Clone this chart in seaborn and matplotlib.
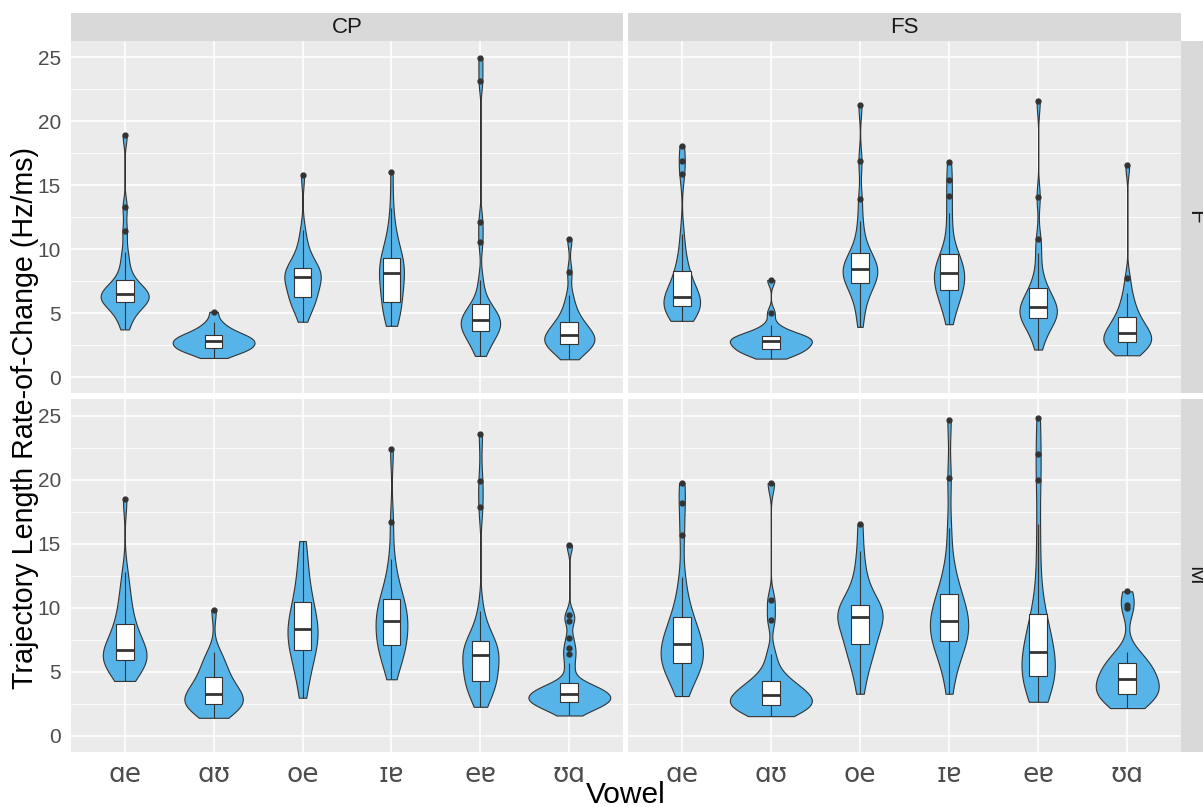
import numpy as np
import pandas as pd
import seaborn as sns
import matplotlib.pyplot as plt

# Vowel categories on the x axis and the facet labels
vowels = ["ɑe", "ɑʊ", "oe", "ɪɐ", "eɐ", "ʊɑ"]
speakers = ["CP", "FS"]
sexes = ["F", "M"]

# Rate-of-change values (Hz/ms), one list per vowel
cp_f = {
    "ɑe": [3.74, 4.4, 4.9, 5.2, 5.5, 5.7, 5.85, 6.0, 6.1, 6.2, 6.3, 6.4, 6.48, 6.6, 6.75, 6.9, 7.1, 7.35, 7.6, 8.2, 8.9, 9.8, 11.39, 13.27, 18.9],
    "ɑʊ": [1.51, 1.75, 1.95, 2.05, 2.12, 2.2, 2.25, 2.35, 2.45, 2.55, 2.62, 2.7, 2.82, 2.9, 2.97, 3.03, 3.1, 3.18, 3.27, 3.4, 3.55, 3.75, 4.0, 4.33, 5.12],
    "oe": [4.34, 5.0, 5.5, 5.8, 6.0, 6.15, 6.3, 6.6, 6.9, 7.2, 7.45, 7.65, 7.86, 7.95, 8.05, 8.15, 8.3, 8.45, 8.57, 8.9, 9.3, 9.8, 10.4, 11.5, 15.83],
    "ɪɐ": [4.02, 4.5, 4.9, 5.2, 5.5, 5.7, 5.9, 6.4, 6.9, 7.3, 7.6, 7.9, 8.12, 8.3, 8.5, 8.7, 8.9, 9.1, 9.35, 9.7, 10.2, 10.8, 11.6, 13.2, 16.04],
    "eɐ": [1.67, 2.2, 2.6, 2.9, 3.2, 3.4, 3.6, 3.8, 3.95, 4.1, 4.22, 4.35, 4.47, 4.6, 4.8, 5.0, 5.2, 5.45, 5.7, 6.4, 7.6, 10.58, 12.15, 23.17, 24.92],
    "ʊɑ": [1.41, 1.75, 2.0, 2.2, 2.35, 2.5, 2.64, 2.75, 2.85, 2.95, 3.05, 3.17, 3.29, 3.45, 3.6, 3.8, 4.0, 4.17, 4.34, 4.7, 5.1, 5.6, 6.4, 8.2, 10.8],
}
fs_f = {
    "ɑe": [4.41, 4.6, 4.8, 5.0, 5.2, 5.4, 5.56, 5.7, 5.82, 5.95, 6.05, 6.17, 6.3, 6.5, 6.8, 7.1, 7.5, 7.9, 8.3, 8.9, 9.7, 11.2, 15.9, 16.87, 18.1],
    "ɑʊ": [1.46, 1.65, 1.8, 1.95, 2.05, 2.12, 2.19, 2.3, 2.42, 2.52, 2.6, 2.7, 2.82, 2.9, 2.97, 3.03, 3.09, 3.15, 3.21, 3.35, 3.5, 3.7, 4.1, 5.04, 7.6],
    "oe": [3.94, 5.0, 5.8, 6.4, 6.8, 7.1, 7.34, 7.6, 7.8, 8.0, 8.15, 8.3, 8.44, 8.6, 8.8, 9.0, 9.25, 9.5, 9.74, 10.3, 11.1, 12.2, 13.9, 16.87, 21.3],
    "ɪɐ": [4.15, 5.0, 5.6, 6.0, 6.35, 6.6, 6.82, 7.1, 7.35, 7.6, 7.8, 7.95, 8.12, 8.35, 8.6, 8.85, 9.1, 9.35, 9.61, 10.3, 11.5, 12.8, 14.13, 15.4, 16.8],
    "eɐ": [2.17, 3.0, 3.5, 3.9, 4.2, 4.42, 4.6, 4.78, 4.92, 5.05, 5.18, 5.32, 5.46, 5.65, 5.85, 6.1, 6.35, 6.65, 6.95, 7.5, 8.3, 9.7, 10.8, 14.08, 21.58],
    "ʊɑ": [1.72, 2.0, 2.2, 2.35, 2.5, 2.62, 2.72, 2.85, 2.95, 3.05, 3.17, 3.3, 3.47, 3.65, 3.85, 4.05, 4.25, 4.45, 4.68, 5.1, 5.5, 6.0, 6.6, 7.73, 16.56],
}
cp_m = {
    "ɑe": [4.27, 4.6, 4.95, 5.25, 5.5, 5.72, 5.9, 6.05, 6.2, 6.32, 6.45, 6.57, 6.7, 7.0, 7.35, 7.7, 8.05, 8.4, 8.72, 9.3, 10.0, 10.7, 11.5, 12.8, 18.47],
    "ɑʊ": [1.39, 1.75, 2.0, 2.15, 2.25, 2.35, 2.43, 2.55, 2.7, 2.85, 3.0, 3.13, 3.27, 3.45, 3.65, 3.85, 4.1, 4.35, 4.61, 4.95, 5.3, 5.7, 6.1, 6.55, 9.83],
    "oe": [2.96, 4.0, 4.8, 5.4, 5.9, 6.3, 6.7, 7.05, 7.35, 7.65, 7.9, 8.1, 8.33, 8.6, 8.9, 9.25, 9.6, 10.0, 10.43, 11.0, 11.6, 12.3, 13.2, 14.2, 15.2],
    "ɪɐ": [4.4, 5.3, 5.9, 6.3, 6.6, 6.85, 7.1, 7.45, 7.8, 8.1, 8.4, 8.7, 8.99, 9.25, 9.5, 9.8, 10.05, 10.35, 10.64, 11.1, 11.7, 12.6, 13.8, 16.7, 22.35],
    "eɐ": [2.25, 3.0, 3.45, 3.75, 3.95, 4.12, 4.27, 4.6, 4.95, 5.3, 5.65, 6.0, 6.29, 6.45, 6.6, 6.75, 6.92, 7.12, 7.36, 7.8, 8.4, 9.77, 17.85, 19.9, 23.53],
    "ʊɑ": [1.57, 1.85, 2.05, 2.2, 2.32, 2.42, 2.5, 2.57, 2.64, 2.72, 2.8, 2.88, 2.95, 3.02, 3.1, 3.18, 3.27, 3.36, 3.45, 3.55, 3.65, 3.75, 3.85, 3.97, 4.09, 5.0, 5.7, 6.4, 6.84, 7.63, 8.99, 9.45, 14.88],
}
fs_m = {
    "ɑe": [3.09, 4.0, 4.6, 5.0, 5.3, 5.52, 5.71, 5.9, 6.1, 6.35, 6.6, 6.88, 7.15, 7.45, 7.75, 8.05, 8.4, 8.8, 9.25, 10.0, 10.87, 12.4, 15.7, 18.16, 19.73],
    "ɑʊ": [1.52, 1.75, 1.92, 2.05, 2.17, 2.28, 2.38, 2.5, 2.62, 2.75, 2.88, 3.02, 3.17, 3.32, 3.48, 3.65, 3.85, 4.05, 4.27, 4.7, 5.3, 6.4, 9.06, 10.56, 19.73],
    "oe": [3.27, 4.6, 5.4, 6.0, 6.5, 6.85, 7.15, 7.55, 7.95, 8.35, 8.7, 9.0, 9.25, 9.42, 9.58, 9.73, 9.88, 10.02, 10.17, 10.7, 11.3, 12.0, 13.0, 14.4, 16.5],
    "ɪɐ": [3.27, 4.8, 5.7, 6.3, 6.8, 7.1, 7.36, 7.7, 8.0, 8.3, 8.55, 8.78, 8.99, 9.3, 9.6, 9.95, 10.3, 10.7, 11.08, 11.7, 12.5, 13.6, 16.2, 20.1, 24.65],
    "eɐ": [2.64, 3.3, 3.75, 4.05, 4.3, 4.5, 4.66, 5.0, 5.3, 5.6, 5.9, 6.2, 6.55, 7.0, 7.45, 7.9, 8.4, 8.9, 9.46, 11.0, 13.5, 16.5, 20.0, 22.0, 24.84],
    "ʊɑ": [2.15, 2.45, 2.7, 2.88, 3.02, 3.15, 3.27, 3.45, 3.62, 3.8, 3.98, 4.18, 4.4, 4.6, 4.8, 5.0, 5.2, 5.45, 5.71, 5.95, 6.2, 6.55, 10.0, 10.2, 11.27],
}
y_ticks = [0, 5, 10, 15, 20, 25]

panels = {("F", "CP"): cp_f, ("F", "FS"): fs_f, ("M", "CP"): cp_m, ("M", "FS"): fs_m}
rows = []
for (sex, spk), groups in panels.items():
    for v in vowels:
        for val in groups[v]:
            rows.append({"sex": sex, "speaker": spk, "vowel": v, "rate": val})
df = pd.DataFrame(rows)


# ggplot-like bandwidth (bw.nrd0) so outliers don't smear the violins
def nrd0(kde):
    x = np.asarray(kde.dataset).ravel()
    sd = x.std(ddof=1)
    q75, q25 = np.percentile(x, [75, 25])
    h = 0.9 * min(sd, (q75 - q25) / 1.34) * len(x) ** -0.2
    return h / sd


sns.set_style("darkgrid", {"axes.facecolor": "#EBEBEB", "grid.color": "white"})
plt.rcParams["font.family"] = ["Liberation Sans", "DejaVu Sans"]

W, H = 1203, 807
fig = plt.figure(figsize=(W / 100, H / 100), dpi=100)

col_x = [(71.3, 622.7), (628.3, 1180.7)]
row_y = [(41.0, 393.3), (399.3, 751.6)]

for r, sex in enumerate(sexes):
    for c, spk in enumerate(speakers):
        x0, x1 = col_x[c]
        y0, y1 = row_y[r]
        ax = fig.add_axes([x0 / W, 1 - y1 / H, (x1 - x0) / W, (y1 - y0) / H])
        sub = df[(df["sex"] == sex) & (df["speaker"] == spk)]

        sns.violinplot(data=sub, x="vowel", y="rate", order=vowels, ax=ax,
                       color="#56B4E9", saturation=1, inner=None, cut=0,
                       density_norm="area", width=0.92, bw_method=nrd0,
                       bw_adjust=1.15, linewidth=0.8, linecolor="#333333")
        sns.boxplot(data=sub, x="vowel", y="rate", order=vowels, ax=ax,
                    width=0.2, color="white", saturation=1, linecolor="#333333",
                    linewidth=0.8, showcaps=False, fliersize=3.5,
                    flierprops=dict(marker="o", markerfacecolor="#333333",
                                    markeredgecolor="#333333"),
                    medianprops=dict(linewidth=2.0, color="#333333"))

        ax.set_xlim(-0.6, 5.6)
        ax.set_ylim(-1.25, 26.27)
        ax.set_yticks(y_ticks)
        ax.set_yticks(np.arange(2.5, 26, 5), minor=True)
        ax.grid(which="major", color="white", linewidth=1.2)
        ax.grid(which="minor", axis="y", color="white", linewidth=0.6)
        ax.set_axisbelow(True)
        for s in ax.spines.values():
            s.set_visible(False)
        ax.set_xlabel("")
        ax.set_ylabel("")
        ax.tick_params(axis="both", which="major", length=4, width=0.8,
                       color="#333333", labelcolor="#4D4D4D")
        ax.tick_params(axis="y", which="minor", length=0)
        ax.tick_params(axis="y", labelsize=15)
        ax.tick_params(axis="x", labelsize=19)
        for lab in ax.get_xticklabels():
            lab.set_fontfamily(["DejaVu Sans"])
        if r == 0:
            ax.tick_params(axis="x", length=0, labelbottom=False)
        if c == 1:
            ax.tick_params(axis="y", length=0, labelleft=False)

# facet strips on top
for c, spk in enumerate(speakers):
    x0, x1 = col_x[c]
    st = fig.add_axes([x0 / W, 1 - 41.0 / H, (x1 - x0) / W, 27.7 / H])
    st.set_facecolor("#D9D9D9")
    st.set_xticks([])
    st.set_yticks([])
    for s in st.spines.values():
        s.set_visible(False)
    st.text(0.5, 0.5, spk, ha="center", va="center", fontsize=16,
            color="#1A1A1A", transform=st.transAxes)

# facet strips on the right (cut by the image edge)
for r, sex in enumerate(sexes):
    y0, y1 = row_y[r]
    st = fig.add_axes([1181.0 / W, 1 - y1 / H, 27.7 / W, (y1 - y0) / H])
    st.set_facecolor("#D9D9D9")
    st.set_xticks([])
    st.set_yticks([])
    for s in st.spines.values():
        s.set_visible(False)
    st.text(0.5, 0.5, sex, ha="center", va="center", rotation=-90, fontsize=16,
            color="#1A1A1A", transform=st.transAxes)

fig.text(25 / W, 1 - 418 / H, "Trajectory Length Rate-of-Change (Hz/ms)",
         rotation=90, ha="center", va="center", fontsize=20.6, color="black")
fig.text(626 / W, 1 - 781 / H, "Vowel", ha="center", va="top",
         fontsize=21.5, color="black")

fig.savefig("out.png", dpi=100)
